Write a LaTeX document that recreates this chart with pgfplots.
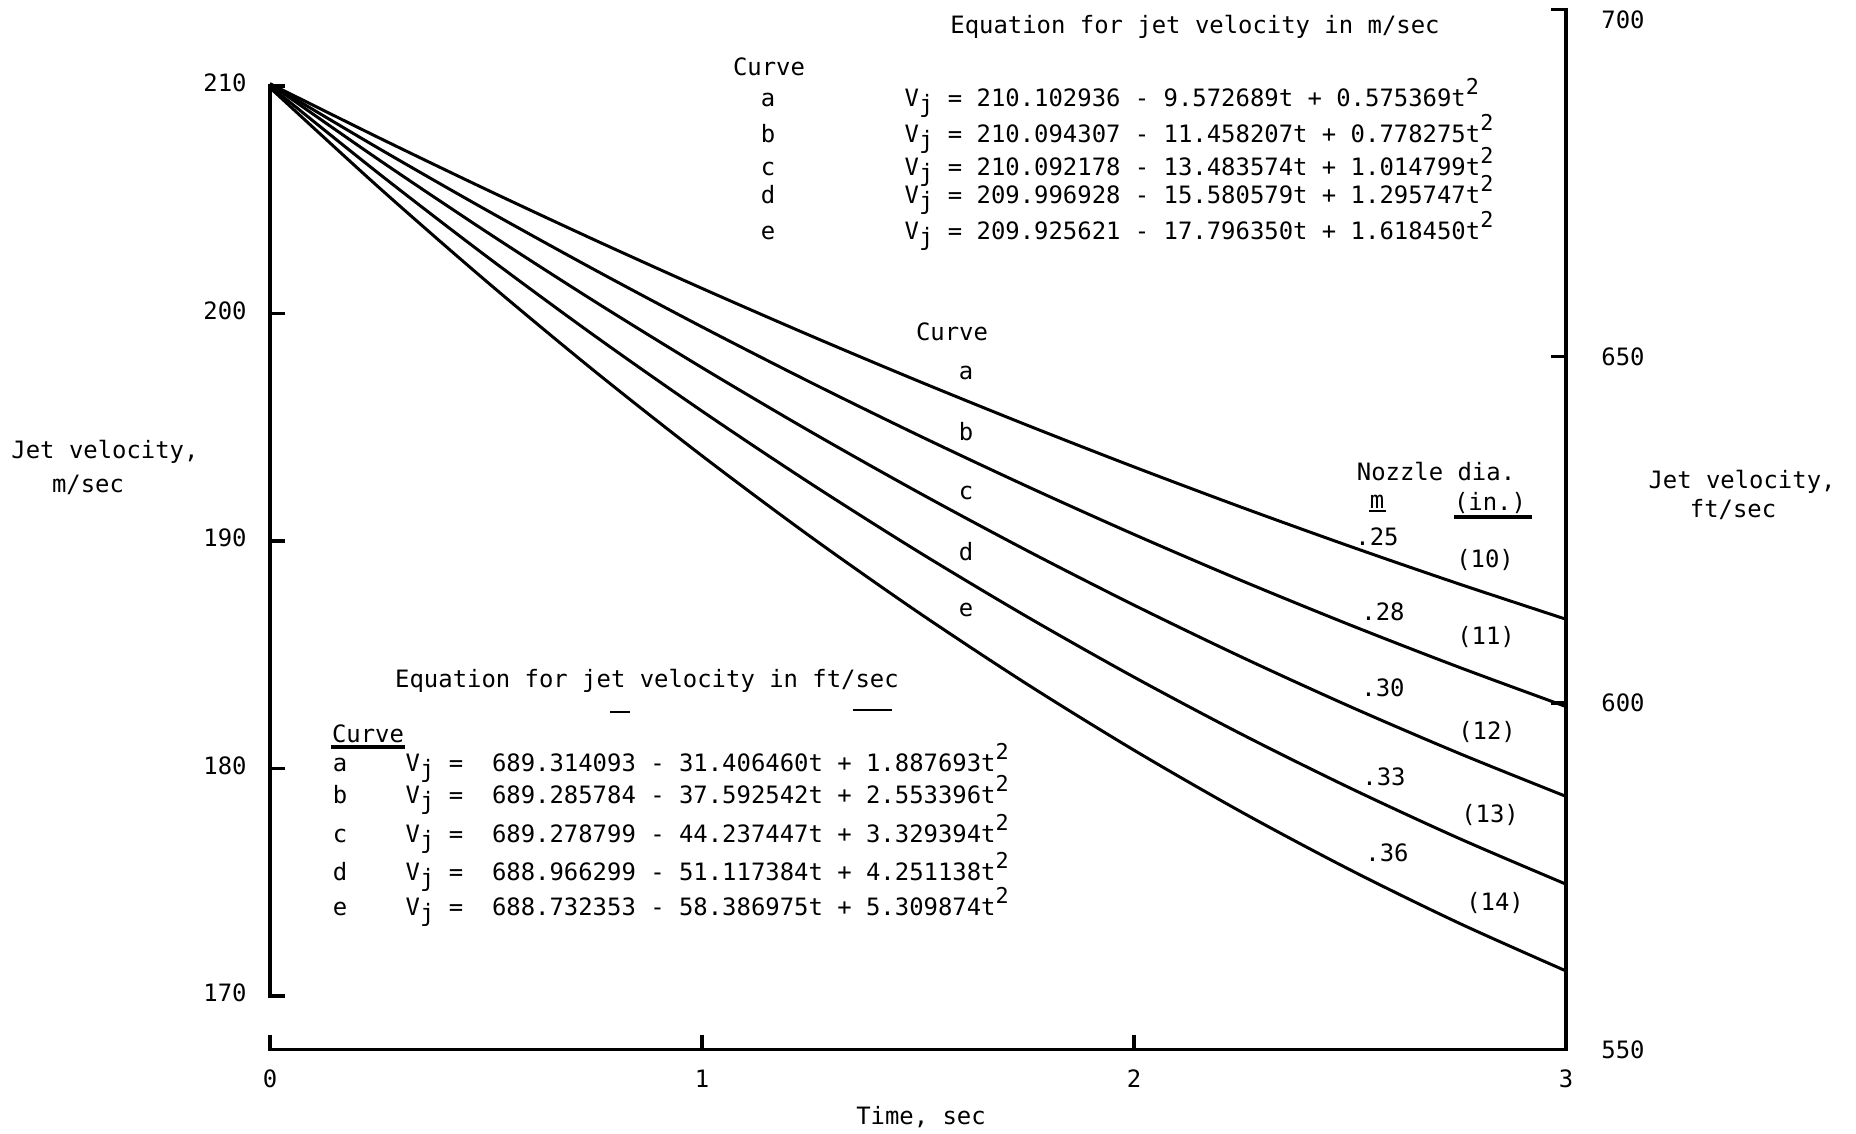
\documentclass[border=0pt]{standalone}
\usepackage{fontspec}
\setmainfont{DejaVu Sans Mono}
\usepackage{pgfplots}
\usepackage{pgfplotstable}
\pgfplotsset{compat=1.18}

% Jet velocity (m/sec) against time (sec) for the five nozzles a--e
\pgfplotstableread{
t     a        b        c        d        e
0.00  210.103  210.094  210.092  209.997  209.926
0.25  207.746  207.278  206.785  206.183  205.578
0.50  205.460  204.560  203.604  202.531  201.432
0.75  203.247  201.938  200.550  199.040  197.489
1.00  201.106  199.414  197.623  195.712  193.748
1.25  199.036  196.988  194.823  192.546  190.209
1.50  197.038  194.658  192.150  189.541  186.873
1.75  195.113  192.426  189.604  186.699  183.739
2.00  193.259  190.291  187.184  184.019  180.807
2.25  191.477  188.253  184.892  181.500  178.077
2.50  189.767  186.313  182.726  179.144  175.550
2.75  188.129  184.470  180.687  176.949  173.225
3.00  186.563  182.724  178.775  174.917  171.103
}\jetvel

\newcommand{\Vj}{V\raisebox{-0.5ex}{j}}
\newcommand{\tsq}{t\raisebox{0.85ex}{\fontsize{6.2}{6}\selectfont 2}}

\begin{document}
\begin{tikzpicture}[font=\fontsize{6.8}{8}\selectfont]
\useasboundingbox (-27mm,-8.33mm) rectangle (158.6mm,104.97mm);

% metric scale (left) with the curves
\begin{axis}[
  scale only axis, width=129.6mm, height=104.01mm,
  xmin=0, xmax=3, ymin=167.64, ymax=213.36,
  axis x line*=bottom, axis y line*=left,
  axis line style={draw=none},
  xtick={0,1,2,3}, ytick={170,180,190,200,210},
  tick align=inside, major tick length=1.5mm,
  tick style={black, line width=1pt},
  /pgf/number format/assume math mode=true,
  yticklabel style={xshift=-1.1mm, yshift=0.3mm},
  xticklabel style={yshift=-0.8mm},
  clip=false,
]
\draw[line width=1pt, line cap=rect] (rel axis cs:0,0) -- (rel axis cs:1,0);
\draw[line width=1pt, line cap=rect] (axis cs:0,170) -- (axis cs:0,210);
\addplot[black, line width=0.85pt, smooth, line join=round] table[x=t, y=a] {\jetvel};
\addplot[black, line width=0.85pt, smooth, line join=round] table[x=t, y=b] {\jetvel};
\addplot[black, line width=0.85pt, smooth, line join=round] table[x=t, y=c] {\jetvel};
\addplot[black, line width=0.85pt, smooth, line join=round] table[x=t, y=d] {\jetvel};
\addplot[black, line width=0.85pt, smooth, line join=round] table[x=t, y=e] {\jetvel};
\end{axis}

% English scale (right)
\begin{axis}[
  scale only axis, width=129.6mm, height=104.01mm,
  xmin=0, xmax=3, ymin=550, ymax=700,
  hide x axis, axis y line*=right,
  axis line style={draw=none},
  ytick={550,600,650},
  extra y ticks={700},
  extra y tick style={yticklabel style={yshift=-1mm}},
  tick align=inside, major tick length=1.5mm,
  tick style={black, line width=1pt},
  /pgf/number format/assume math mode=true,
  yticklabel style={xshift=2.3mm},
  clip=false,
]
\draw[line width=1pt, line cap=rect] (rel axis cs:1,0) -- (rel axis cs:1,1);
\end{axis}

% annotations, positioned on a 0.1 mm grid from the top left corner
\begin{scope}[shift={(-27mm,104.97mm)}, x=0.1mm, y=-0.1mm, every node/.style={inner sep=0pt}]
  % axis titles
  \node at (105,452) {Jet velocity,};
  \node at (88,485) {m/sec};
  \node at (1742,482) {Jet velocity,};
  \node at (1733,510) {ft/sec};
  \node at (921,1117) {Time, sec};

  % metric equations
  \node at (1195,27) {Equation for jet velocity in m/sec};
  \node at (769,67) {Curve};
  \foreach \yy/\cv/\eq in {
    106/a/{210.102936 - 9.572689t + 0.575369},
    142/b/{210.094307 - 11.458207t + 0.778275},
    175/c/{210.092178 - 13.483574t + 1.014799},
    203/d/{209.996928 - 15.580579t + 1.295747},
    239/e/{209.925621 - 17.796350t + 1.618450}}{
    \node[anchor=base] at (768,\yy) {\cv};
    \node[anchor=base west] at (904,\yy) {\Vj{} = \eq\tsq};
  }

  % English equations
  \node at (647,681) {Equation for jet velocity in ft/sec};
  \draw[line width=0.4pt] (610,712) -- (630,712);
  \draw[line width=0.4pt] (853,710) -- (892,710);
  \node at (368,734) {Curve};
  \draw[line width=0.9pt] (331,747) -- (405,747);
  \foreach \yy/\cv/\eq in {
    771/a/{689.314093 - 31.406460t + 1.887693},
    803/b/{689.285784 - 37.592542t + 2.553396},
    842/c/{689.278799 - 44.237447t + 3.329394},
    880/d/{688.966299 - 51.117384t + 4.251138},
    915/e/{688.732353 - 58.386975t + 5.309874}}{
    \node[anchor=base] at (340,\yy) {\cv};
    \node[anchor=base west] at (405,\yy) {\Vj{}~=~~\eq\tsq};
  }

  % curve letters
  \node at (952,332) {Curve};
  \node at (966,373) {a};
  \node at (966,432) {b};
  \node at (966,493) {c};
  \node at (966,552) {d};
  \node at (966,610) {e};

  % nozzle diameters
  \node at (1436,472) {Nozzle dia.};
  \node at (1377,502) {m};
  \draw[line width=0.8pt] (1369,511) -- (1386,511);
  \node at (1490,503) {(in.)};
  \draw[line width=0.9pt] (1454,517) -- (1532,517);
  \node at (1377,537) {.25}; \node at (1485,560) {(10)};
  \node at (1383,612) {.28}; \node at (1486,637) {(11)};
  \node at (1383,688) {.30}; \node at (1487,732) {(12)};
  \node at (1384,777) {.33}; \node at (1490,815) {(13)};
  \node at (1387,853) {.36}; \node at (1495,903) {(14)};
\end{scope}
\end{tikzpicture}
\end{document}
